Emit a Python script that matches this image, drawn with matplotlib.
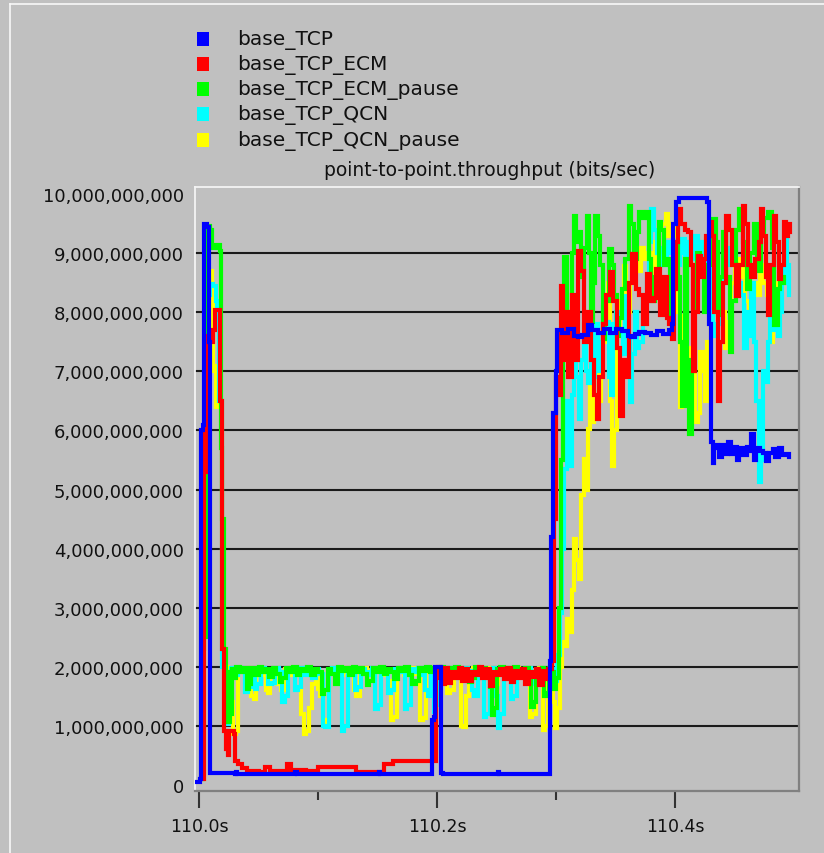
import matplotlib
matplotlib.use("Agg")
import matplotlib.pyplot as plt
from matplotlib.patches import Rectangle
from matplotlib.lines import Line2D
from matplotlib.ticker import FuncFormatter, FixedLocator

# samples: (ms after 110.0 s, throughput in Gbit/s)
base_tcp = [
    (-1.5, 0.05), (0.5, 0.1), (1.5, 6.0), (3.0, 6.1), (4.0, 9.5), (6.5, 9.45), (8.0, 7.5), (9.5, 0.2),
    (30, 0.18), (31, 0.22), (32, 0.18), (80, 0.18), (81, 0.22), (82, 0.18), (150, 0.18), (151, 0.22),
    (152, 0.18), (195.5, 0.18), (196.0, 1.1), (197.5, 1.15), (198.5, 2.0), (202.0, 2.0), (203.5, 0.2),
    (205, 0.18), (250, 0.18), (251, 0.22), (252, 0.18), (294.0, 0.18), (295.0, 2.1), (296.0, 4.2),
    (297.5, 6.3), (299.5, 7.0), (301.0, 7.7), (305, 7.65), (310, 7.72), (315, 7.6), (318, 7.58),
    (322, 7.62), (327, 7.78), (330, 7.7), (335, 7.65), (340, 7.72), (345, 7.66), (350, 7.72),
    (355, 7.68), (360, 7.6), (363, 7.58), (366, 7.63), (370, 7.67), (375, 7.66), (380, 7.62),
    (385, 7.68), (390, 7.64), (395, 7.7), (397.5, 7.8), (398.5, 9.5), (400.5, 9.88), (403, 9.94),
    (425, 9.94), (427, 9.88), (428.5, 7.8), (430, 5.8), (431.5, 5.45), (433, 5.75), (436, 5.7),
    (437, 5.55), (439, 5.75), (442, 5.6), (444, 5.8), (447, 5.6), (449, 5.72), (452, 5.5), (454, 5.7),
    (457, 5.58), (460, 5.72), (462, 5.65), (464, 5.94), (466, 5.5), (468, 5.7), (471, 5.65),
    (474, 5.62), (476, 5.48), (479, 5.62), (482, 5.68), (484, 5.55), (487, 5.7), (490, 5.58),
    (493, 5.6), (496, 5.55),
]

base_tcp_ecm = [
    (2.0, 0.1), (4.0, 5.5), (5.0, 6.05), (6.0, 5.3), (7.5, 7.6), (10.5, 7.5), (12, 7.7), (13.5, 8.05),
    (17.0, 8.05), (18.0, 6.5), (19.5, 2.3), (21.0, 0.9), (22.5, 0.6), (24.5, 0.5), (25.5, 0.9),
    (29.0, 0.85), (30.5, 0.4), (33, 0.35), (36, 0.28), (40, 0.23), (50, 0.22), (55, 0.3), (60, 0.23),
    (72, 0.23), (74, 0.35), (77, 0.25), (90, 0.23), (100, 0.3), (130, 0.3), (132, 0.22), (150, 0.22),
    (155, 0.35), (160, 0.35), (163, 0.39), (196, 0.4), (197.5, 0.4), (199, 1.8), (200.5, 2.0),
    (202, 1.95), (204, 1.7), (207, 1.98), (209, 1.72), (212, 1.9), (215, 1.8), (218, 1.98),
    (221, 1.75), (224, 1.95), (226, 1.76), (229, 1.9), (232, 1.85), (235, 2.0), (238, 1.8),
    (241, 1.95), (244, 1.67), (247, 1.9), (250, 1.85), (253, 1.95), (256, 1.78), (259, 1.98),
    (262, 1.73), (265, 1.92), (268, 1.8), (271, 1.95), (274, 1.7), (277, 1.9), (280, 1.82),
    (283, 1.95), (286, 1.68), (289, 1.92), (291, 1.79), (293, 1.95), (296.5, 2.1), (298, 4.5),
    (300, 6.9), (302, 6.6), (304, 8.45), (306, 7.2), (308, 8.0), (310, 6.9), (313, 8.3), (316, 7.2),
    (318, 9.05), (321, 8.7), (323, 7.5), (326, 8.0), (329, 7.2), (332, 6.6), (334, 6.2), (336, 6.9),
    (339, 7.8), (342, 8.3), (345, 8.69), (348, 8.2), (351, 7.4), (354, 6.25), (356, 7.2), (358, 6.9),
    (361, 8.5), (364, 8.99), (367, 8.4), (370, 8.3), (373, 7.8), (376, 8.65), (379, 8.2), (382, 8.25),
    (384, 8.74), (387, 7.95), (390, 8.6), (393, 7.9), (395, 7.8), (397, 7.55), (399, 8.4), (401, 9.2),
    (402.5, 9.75), (405, 9.5), (408, 9.4), (411, 9.36), (413, 8.8), (415, 7.0), (417, 8.0),
    (419.5, 8.96), (422, 8.6), (424, 8.9), (426, 9.3), (429, 9.53), (431, 9.3), (433, 8.0), (436, 6.5),
    (438, 7.5), (440, 8.5), (442.5, 9.64), (445, 9.4), (448, 8.8), (451, 8.28), (454, 8.8),
    (457, 9.81), (459, 9.5), (461, 8.8), (464, 8.6), (467, 8.9), (470, 9.2), (472, 9.75), (474, 9.3),
    (476, 8.6), (478, 7.95), (480, 8.8), (483, 9.64), (485, 9.2), (487, 8.57), (489, 8.8),
    (491, 9.53), (493, 9.3), (495, 9.5), (496.5, 9.36),
]

base_tcp_ecm_pause = [
    (2.0, 0.1), (3.0, 2.3), (4.5, 2.5), (6.0, 9.2), (7.5, 9.47), (9.5, 9.4), (11.0, 9.1), (14.0, 9.15),
    (17.5, 9.05), (18.5, 5.7), (19.5, 4.5), (21.0, 2.3), (22.5, 1.9), (24, 1.06), (26, 1.2),
    (27.5, 1.95), (29, 1.8), (31, 2.0), (34, 1.9), (37, 1.98), (40, 1.62), (42, 1.7), (44, 1.97),
    (47, 1.85), (50, 2.0), (53, 1.9), (56, 1.95), (59, 1.82), (62, 1.98), (65, 1.88), (68, 1.74),
    (70, 1.8), (73, 1.98), (76, 1.9), (79, 2.0), (82, 1.85), (85, 1.95), (88, 1.92), (91, 2.0),
    (94, 1.85), (97, 1.95), (100, 1.9), (103, 1.53), (105, 1.6), (108, 1.95), (111, 1.88), (114, 1.7),
    (117, 2.0), (120, 1.92), (123, 1.98), (126, 1.86), (129, 2.0), (132, 1.9), (135, 1.98),
    (138, 1.88), (141, 1.68), (143, 1.75), (146, 1.98), (149, 1.9), (152, 2.0), (155, 1.88),
    (158, 1.95), (161, 1.9), (164, 1.78), (167, 1.98), (170, 1.92), (173, 2.0), (176, 1.85),
    (179, 1.7), (182, 1.75), (185, 1.98), (188, 1.92), (191, 2.0), (194, 1.9), (197, 1.98),
    (200, 1.95), (203, 2.0), (206, 1.9), (209, 1.98), (212, 1.85), (215, 2.0), (218, 1.9),
    (221, 1.95), (224, 1.85), (227, 1.74), (229, 1.8), (232, 2.0), (235, 1.92), (238, 1.98),
    (241, 1.9), (244, 1.65), (246, 1.17), (248, 1.3), (250, 1.95), (253, 2.0), (256, 1.9),
    (259, 1.98), (262, 1.88), (265, 2.0), (268, 1.92), (271, 1.85), (274, 1.98), (277, 1.9),
    (279, 1.31), (281, 1.4), (283, 1.95), (286, 1.85), (288, 1.98), (290, 1.5), (292, 1.55),
    (294, 1.98), (296, 1.9), (298, 1.62), (300, 1.8), (302, 3.0), (304, 5.5), (305.5, 7.27),
    (307, 8.94), (309, 8.0), (311, 7.6), (313, 9.0), (315, 9.64), (317, 9.2), (319, 9.36), (321, 8.6),
    (323, 9.1), (325.5, 9.64), (327.5, 9.0), (329, 7.84), (331, 8.5), (333, 9.64), (335, 9.3),
    (337, 8.8), (339, 7.55), (341, 8.2), (344, 9.07), (347, 8.8), (349, 8.3), (351, 7.6), (353, 7.9),
    (355, 8.4), (358, 8.9), (361, 9.81), (363, 9.5), (365, 8.9), (368, 9.36), (370, 9.7), (373, 9.6),
    (376, 9.7), (378, 8.9), (380, 8.2), (383, 8.6), (386, 9.53), (388, 9.4), (391, 8.8), (394, 8.9),
    (396, 7.9), (398, 8.6), (400, 9.2), (402, 8.6), (404, 7.5), (406, 6.42), (408, 8.9), (410, 7.2),
    (412, 5.94), (414, 7.0), (416, 8.8), (418, 9.0), (421, 8.7), (424, 8.0), (427, 8.8), (429, 9.3),
    (431, 9.58), (434, 9.2), (436, 7.95), (438, 8.6), (440, 9.36), (443, 8.6), (446, 7.33),
    (448, 8.2), (451, 9.4), (454, 9.75), (457, 9.2), (460, 8.4), (463, 9.0), (466, 9.5), (469, 8.7),
    (472, 9.3), (475, 9.6), (478, 9.7), (481, 9.1), (483, 7.78), (486, 8.4), (488, 8.5), (491, 8.6),
]

base_tcp_qcn = [
    (2.0, 0.1), (3.5, 5.0), (5.5, 5.2), (6.5, 8.3), (9.0, 8.48), (12, 8.45), (14, 8.2), (15.5, 8.0),
    (17, 6.5), (19, 2.0), (21.5, 1.9), (23, 1.03), (25, 1.3), (27, 1.97), (30, 1.85), (33, 1.98),
    (36, 1.9), (39, 1.57), (41, 1.65), (44, 1.95), (47, 1.62), (49, 1.7), (52, 1.98), (55, 1.9),
    (58, 1.7), (61, 1.72), (64, 1.98), (67, 1.9), (70, 1.4), (72, 1.5), (75, 1.95), (78, 1.9),
    (81, 1.6), (83, 1.65), (86, 1.98), (89, 1.85), (92, 1.92), (95, 1.8), (98, 1.95), (101, 1.88),
    (104, 1.0), (106, 0.98), (109, 1.9), (112, 1.98), (115, 1.85), (118, 1.9), (120, 0.91),
    (122, 1.0), (125, 1.9), (128, 1.95), (131, 1.6), (133, 1.65), (136, 1.95), (139, 1.9),
    (142, 1.85), (145, 1.98), (148, 1.28), (150, 1.35), (153, 1.95), (156, 1.88), (159, 1.55),
    (161, 1.6), (164, 1.95), (167, 1.9), (170, 1.98), (173, 1.28), (175, 1.35), (178, 1.95),
    (181, 1.9), (184, 1.98), (187, 1.85), (190, 1.6), (192, 1.5), (195, 1.9), (197, 1.23),
    (199, 1.35), (202, 1.95), (205, 1.9), (208, 1.98), (211, 1.85), (214, 1.95), (217, 1.8),
    (220, 1.9), (223, 1.98), (226, 1.92), (229, 1.6), (231, 1.5), (234, 1.95), (237, 1.9),
    (239, 1.14), (241, 1.2), (244, 1.9), (247, 1.98), (249, 1.5), (251, 0.96), (253, 1.2),
    (256, 1.9), (259, 1.85), (262, 1.45), (264, 1.5), (267, 1.95), (270, 1.9), (273, 1.85),
    (276, 1.98), (279, 1.7), (282, 1.75), (285, 1.95), (288, 1.85), (291, 1.9), (294, 1.95),
    (297, 1.9), (299, 1.75), (301, 2.2), (303, 2.9), (305, 4.0), (307, 5.35), (309, 6.5), (311, 5.4),
    (313, 6.6), (315, 7.84), (317, 6.9), (319, 6.2), (321, 7.2), (323, 7.8), (325, 7.0), (327, 6.8),
    (329, 7.5), (331, 6.9), (333, 7.8), (335, 7.0), (337, 7.5), (339, 8.1), (342, 7.84), (344, 6.9),
    (346, 6.6), (348, 7.8), (350, 8.0), (353, 7.7), (356, 7.3), (358, 8.28), (360, 7.6), (362, 6.48),
    (364, 7.3), (366, 8.0), (368, 7.4), (370, 7.5), (373, 8.3), (376, 8.6), (378, 9.2), (380, 9.75),
    (382, 9.4), (385, 9.0), (388, 9.1), (390, 8.8), (393, 9.2), (395, 9.0), (398, 8.5), (401, 8.8),
    (404, 9.0), (406, 9.25), (408, 8.8), (410, 9.2), (413, 8.9), (416, 9.3), (419, 9.0), (421, 9.2),
    (424, 8.8), (426, 8.9), (428, 9.4), (430, 7.94), (432, 7.6), (434, 7.8), (437, 8.5), (440, 9.0),
    (443, 8.8), (446, 9.1), (449, 8.8), (452, 8.5), (455, 8.3), (458, 7.4), (460, 8.0), (462, 7.6),
    (464, 8.5), (466, 7.5), (468, 6.5), (470, 5.13), (472, 5.5), (474, 7.0), (476, 6.82), (478, 7.5),
    (480, 8.2), (482, 7.7), (484, 8.0), (486, 7.6), (488, 8.0), (490, 8.5), (492, 9.4), (494, 8.8),
    (496, 8.3),
]

base_tcp_qcn_pause = [
    (2.0, 0.1), (4.0, 5.0), (6.0, 8.0), (8.0, 8.7), (10.5, 8.3), (12, 7.0), (14, 6.4), (15.5, 7.1),
    (17.5, 6.5), (19.5, 3.0), (21, 2.0), (24, 1.8), (26, 1.4), (28.5, 0.85), (31, 0.9), (33, 1.9),
    (36, 1.95), (39, 1.85), (42, 1.98), (44, 1.5), (46, 1.45), (48, 1.9), (51, 1.95), (54, 1.85),
    (56, 1.6), (58, 1.55), (60, 1.9), (63, 1.98), (66, 1.7), (69, 1.6), (72, 1.95), (75, 1.92),
    (78, 1.85), (81, 1.98), (84, 1.9), (86, 1.2), (88, 0.85), (90, 0.9), (92, 1.3), (95, 1.7),
    (98, 1.95), (100, 1.62), (102, 1.5), (104, 1.05), (106, 1.1), (109, 1.9), (112, 1.98), (115, 1.9),
    (118, 1.85), (121, 1.98), (124, 1.9), (127, 1.95), (130, 1.6), (132, 1.5), (135, 1.9), (138, 1.98),
    (141, 1.85), (144, 1.92), (147, 1.9), (150, 1.98), (153, 1.85), (156, 1.9), (159, 1.75),
    (161, 1.1), (163, 1.14), (166, 1.9), (169, 1.98), (172, 1.85), (175, 1.9), (178, 1.98),
    (181, 1.88), (184, 1.95), (186, 1.1), (188, 1.12), (191, 1.9), (194, 1.98), (197, 1.95),
    (200, 1.85), (203, 1.98), (206, 1.9), (208, 1.55), (211, 1.6), (214, 1.9), (217, 1.98),
    (220, 1.0), (222, 0.97), (224, 1.5), (227, 1.9), (230, 1.98), (233, 1.85), (236, 1.95),
    (239, 1.88), (242, 1.98), (245, 1.9), (248, 1.7), (251, 1.9), (254, 1.98), (257, 1.85),
    (260, 1.95), (263, 1.9), (266, 1.98), (269, 1.85), (272, 1.95), (275, 1.9), (278, 1.15),
    (280, 1.2), (283, 1.9), (286, 1.98), (289, 0.92), (291, 1.0), (293, 1.8), (295, 1.9), (297, 1.4),
    (299, 0.95), (301, 1.3), (303, 2.0), (305, 2.41), (307, 2.35), (309, 2.8), (311, 2.58),
    (313, 3.3), (315, 4.16), (317, 3.8), (319, 3.48), (321, 4.9), (323, 5.52), (325, 5.0),
    (327, 6.03), (328.5, 6.9), (330, 6.14), (332, 7.35), (334, 6.9), (336, 6.5), (338, 7.5),
    (341, 8.0), (343.5, 8.5), (345, 6.5), (347, 5.4), (349, 6.0), (351, 7.6), (354, 8.2), (357, 8.79),
    (359, 8.0), (362, 8.5), (365, 8.9), (368, 8.7), (371, 9.1), (374, 8.9), (377, 9.0), (380, 8.5),
    (383, 9.2), (386, 9.4), (389, 9.5), (392, 9.67), (394, 9.3), (397, 9.5), (400, 9.3), (402, 8.0),
    (404, 6.4), (406, 7.94), (408, 7.0), (411, 7.4), (414, 7.0), (417, 6.14), (419, 6.3), (421, 7.33),
    (423, 7.0), (425, 6.5), (427, 7.5), (430, 8.5), (433, 8.0), (436, 8.4), (439, 8.0), (442, 7.4),
    (444, 7.84), (447, 8.5), (450, 8.9), (453, 8.6), (456, 8.9), (459, 8.2), (462, 8.0), (465, 8.5),
    (468, 8.3), (471, 8.8), (474, 8.5), (477, 8.3), (480, 7.5), (482, 8.0), (484, 8.5), (487, 8.3),
    (490, 8.5),
]

series_names = ["base_TCP", "base_TCP_ECM", "base_TCP_ECM_pause", "base_TCP_QCN", "base_TCP_QCN_pause"]
series_colors = ["#0000ff", "#ff0000", "#00ff00", "#00ffff", "#ffff00"]
series_data = [base_tcp, base_tcp_ecm, base_tcp_ecm_pause, base_tcp_qcn, base_tcp_qcn_pause]

y_ticks = [i * 1e9 for i in range(11)]
x_major = [110.0, 110.2, 110.4]
x_minor = [110.1, 110.3]

BG = "#c0c0c0"
fig = plt.figure(figsize=(8.24, 8.54), dpi=100, facecolor=BG)
ax = fig.add_axes([195 / 824, 1 - 792 / 854, 604 / 824, 604 / 854])
ax.set_facecolor(BG)

# later series underneath, base_TCP on top
for i in reversed(range(len(series_data))):
    pts = series_data[i]
    xs = [110.0 + t / 1000.0 for t, _ in pts]
    ys = [v * 1e9 for _, v in pts]
    ax.plot(xs, ys, color=series_colors[i], lw=3.0, drawstyle="steps-post",
            solid_joinstyle="miter", zorder=3 + (5 - i))

# horizontal rules at the inner ticks only
for yv in y_ticks[1:-1]:
    ax.axhline(yv, color="#1a1a1a", lw=1.5, zorder=1)

ax.set_xlim(110.0 - 0.0034, 110.504)
ax.set_ylim(-0.11e9, 10.127e9)
ax.yaxis.set_major_locator(FixedLocator(y_ticks))
ax.yaxis.set_major_formatter(FuncFormatter(lambda v, p: f"{v:,.0f}"))
ax.xaxis.set_major_locator(FixedLocator(x_major))
ax.xaxis.set_minor_locator(FixedLocator(x_minor))
ax.xaxis.set_major_formatter(FuncFormatter(lambda v, p: f"{v:.1f}s"))

ax.tick_params(axis="y", length=0, pad=8, labelsize=13, labelcolor="#111111")
ax.tick_params(axis="x", which="major", direction="out", length=12, width=1.5,
               color="#333333", pad=7, labelsize=12.5, labelcolor="#111111")
ax.tick_params(axis="x", which="minor", direction="out", length=6.5, width=1.5, color="#333333")

for side in ("top", "left"):
    ax.spines[side].set_color("#f4f4f4")
    ax.spines[side].set_linewidth(1.3)
for side in ("bottom", "right"):
    ax.spines[side].set_color("#808080")
    ax.spines[side].set_linewidth(1.6)

fig.text(490 / 824, 1 - 171 / 854, "point-to-point.throughput (bits/sec)",
         ha="center", va="center", fontsize=13.5, color="#111111")

# legend block above the plot
row_y = [40, 65, 90, 115, 141]
for name, color, yy in zip(series_names, series_colors, row_y):
    fig.add_artist(Rectangle((197 / 824, 1 - (yy + 7) / 854), 12 / 824, 14 / 854,
                             transform=fig.transFigure, facecolor=color, edgecolor="none"))
    fig.text(237 / 824, 1 - yy / 854, name, ha="left", va="center", fontsize=14.5, color="#111111")

# window frame edges
fig.add_artist(Line2D([10 / 824, 1], [1 - 5 / 854, 1 - 5 / 854], transform=fig.transFigure,
                      color="#f8f8f8", lw=1.2))
fig.add_artist(Line2D([10 / 824, 10 / 824], [0, 1 - 5 / 854], transform=fig.transFigure,
                      color="#f8f8f8", lw=1.2))

fig.savefig("out.png", dpi=100, facecolor=BG)
